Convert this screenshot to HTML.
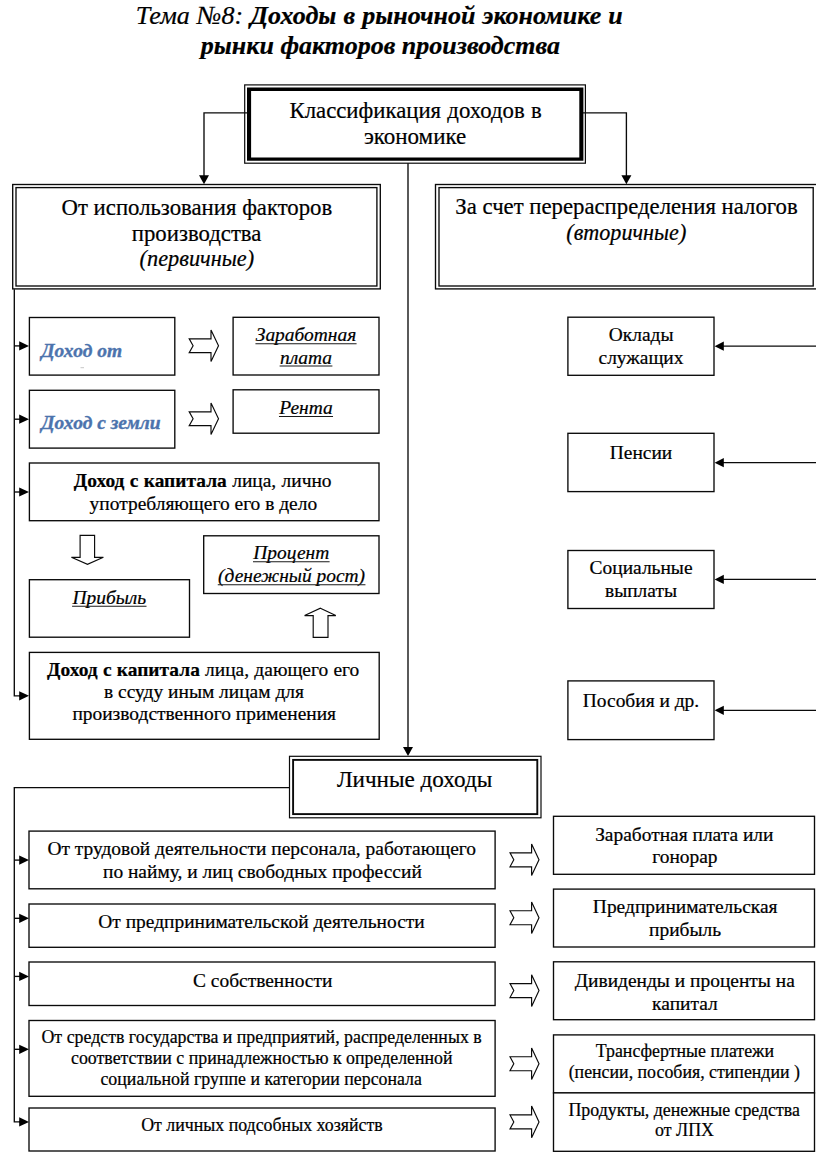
<!DOCTYPE html>
<html lang="ru"><head><meta charset="utf-8"><title>Тема №8</title>
<style>
html,body{margin:0;padding:0;background:#fff;}
body{width:816px;height:1153px;overflow:hidden;}
svg{display:block;}
text{font-family:"Liberation Serif",serif;fill:#000;stroke:#000;stroke-width:0.22px;}
.t{font-size:26px;font-style:italic;}
.h{font-size:22.75px;}
.n{font-size:19.45px;}
.s{font-size:17.85px;}
.i{font-style:italic;}
.b{font-weight:bold;}
.ul{fill:none;stroke:#1a1a1a;stroke-width:1.05;}
.bl{fill:#4c73ad;stroke:#4c73ad;stroke-width:0.35;font-weight:bold;font-style:italic;font-size:19.5px;}
.bx{fill:#fff;stroke:#0a0a0a;stroke-width:1.35;}
.ln{fill:none;stroke:#0a0a0a;stroke-width:1.35;}
.ar{fill:#fff;stroke:#0a0a0a;stroke-width:1.15;stroke-linejoin:miter;}
.hd{fill:#000;stroke:none;}
</style></head><body>
<svg width="816" height="1153" viewBox="0 0 816 1153">
<rect x="0" y="0" width="816" height="1153" fill="#fff"/>
<g transform="translate(0,0.3)">
<text x="379.3" y="23.6" text-anchor="middle" class="t" style="word-spacing:0.6px">Тема №8: <tspan class="b">Доходы в рыночной экономике и</tspan></text>
<text x="380.40" y="54.00" text-anchor="middle" class="t b">рынки факторов производства</text>
<path class="ln" d="M408,162 V749"/>
<path class="hd" d="M408.00,755.70 L403.00,746.70 L413.00,746.70 Z"/>
<rect class="bx" x="244.70" y="84.60" width="340.70" height="78.30" style="stroke-width:1.2"/>
<path fill="#000" fill-rule="evenodd" d="M247.0,87.3 H583.4 V160.4 H247.0 Z M251.1,90.6 H579.3 V157.1 H251.1 Z"/>
<text x="415.6" y="117.3" text-anchor="middle" class="h" style="word-spacing:0.6px">Классификация доходов в</text>
<text x="415.1" y="143.6" text-anchor="middle" style="font-size:23.0px">экономике</text>
<path class="ln" d="M247.5,112.6 H204 V177"/>
<path class="hd" d="M204.00,184.00 L199.00,175.00 L209.00,175.00 Z"/>
<path class="ln" d="M583,112.6 H626.4 V177"/>
<path class="hd" d="M626.40,184.00 L621.40,175.00 L631.40,175.00 Z"/>
<rect class="bx" x="12.70" y="184.20" width="367.60" height="104.40" />
<rect class="bx" x="16.00" y="187.30" width="360.90" height="98.40" />
<text x="196.90" y="214.80" text-anchor="middle" class="h">От использования факторов</text>
<text x="196.60" y="240.70" text-anchor="middle" class="h">производства</text>
<text x="196.9" y="265.8" text-anchor="middle" class="i" style="font-size:22.3px">(первичные)</text>
<rect class="bx" x="435.50" y="184.20" width="381.50" height="104.40" />
<rect class="bx" x="439.00" y="187.30" width="374.20" height="98.40" />
<text x="626.50" y="214.00" text-anchor="middle" class="h">За счет перераспределения налогов</text>
<text x="626.3" y="239.4" text-anchor="middle" class="i" style="font-size:22.15px">(вторичные)</text>
<path class="ln" d="M14.3,289 V695.5 H20"/>
<path class="ln" d="M14.30,345.60 H20.20"/>
<path class="hd" d="M29.00,345.60 L19.20,341.00 L19.20,350.20 Z"/>
<path class="ln" d="M14.30,418.90 H20.20"/>
<path class="hd" d="M29.00,418.90 L19.20,414.30 L19.20,423.50 Z"/>
<path class="ln" d="M14.30,491.70 H20.20"/>
<path class="hd" d="M29.00,491.70 L19.20,487.10 L19.20,496.30 Z"/>
<path class="ln" d="M19.00,695.50 H20.20"/>
<path class="hd" d="M29.00,695.50 L19.20,690.90 L19.20,700.10 Z"/>
<rect class="bx" x="29.40" y="317.20" width="145.40" height="57.60" />
<rect class="bx" x="29.40" y="390.00" width="145.40" height="57.80" />
<rect class="bx" x="233.10" y="317.00" width="145.90" height="57.70" />
<rect class="bx" x="233.10" y="389.50" width="145.90" height="43.40" />
<rect class="bx" x="29.40" y="462.70" width="349.60" height="57.70" />
<rect class="bx" x="29.40" y="579.40" width="160.10" height="57.50" />
<rect class="bx" x="203.70" y="535.50" width="175.30" height="57.70" />
<rect class="bx" x="29.40" y="652.10" width="349.80" height="86.90" />
<text x="41.20" y="356.40" text-anchor="start" class="bl">Доход от</text>
<text x="41.20" y="429.20" text-anchor="start" class="bl">Доход с земли</text>
<path d="M80.5,367.4 H84" stroke="#b8b8b8" stroke-width="0.8" fill="none"/>
<text x="306.00" y="341.20" text-anchor="middle" class="n i">Заработная</text>
<path class="ul" d="M255.44,343.50 H356.56"/>
<text x="306.00" y="363.40" text-anchor="middle" class="n i">плата</text>
<path class="ul" d="M279.61,365.70 H332.39"/>
<text x="306.00" y="413.80" text-anchor="middle" class="n i">Рента</text>
<path class="ul" d="M278.97,416.10 H333.03"/>
<text x="202.7" y="486.7" text-anchor="middle" class="n" style="word-spacing:0.5px"><tspan class="b">Доход с капитала</tspan> лица, лично</text>
<text x="203.40" y="509.80" text-anchor="middle" class="n">употребляющего его в дело</text>
<text x="109.30" y="603.60" text-anchor="middle" class="n i">Прибыль</text>
<path class="ul" d="M72.10,605.90 H146.50"/>
<text x="291.30" y="559.20" text-anchor="middle" class="n i">Процент</text>
<path class="ul" d="M252.98,561.50 H329.62"/>
<text x="291.60" y="582.10" text-anchor="middle" class="n i">(денежный рост)</text>
<path class="ul" d="M217.76,584.40 H365.44"/>
<text x="203.2" y="675.9" text-anchor="middle" class="n" style="word-spacing:0.4px"><tspan class="b">Доход с капитала</tspan> лица, дающего его</text>
<text x="204.00" y="697.80" text-anchor="middle" class="n">в ссуду иным лицам для</text>
<text x="204.20" y="720.10" text-anchor="middle" class="n">производственного применения</text>
<path class="ar" d="M189.20,338.55 H211.00 V329.75 L218.50,345.45 L211.00,361.15 V352.35 H189.20 L193.10,345.45 Z"/>
<path class="ar" d="M189.20,411.60 H211.00 V402.80 L218.50,418.50 L211.00,434.20 V425.40 H189.20 L193.10,418.50 Z"/>
<path class="ar" d="M80.1,535.1 H94.6 V557.0 H103.4 L87.5,564.1 L71.4,557.0 H80.1 Z"/>
<path class="ar" d="M320.4,607.9 L335.8,615.3 H328.0 V637.0 H313.2 V615.3 H304.6 Z"/>
<rect class="bx" x="567.90" y="316.90" width="146.10" height="58.10" />
<path class="ln" d="M817.00,345.90 H722.80"/>
<path class="hd" d="M714.60,345.90 L723.80,341.30 L723.80,350.50 Z"/>
<rect class="bx" x="567.90" y="433.00" width="146.10" height="58.30" />
<path class="ln" d="M817.00,462.40 H722.80"/>
<path class="hd" d="M714.60,462.40 L723.80,457.80 L723.80,467.00 Z"/>
<rect class="bx" x="567.90" y="550.20" width="146.10" height="58.00" />
<path class="ln" d="M817.00,579.10 H722.80"/>
<path class="hd" d="M714.60,579.10 L723.80,574.50 L723.80,583.70 Z"/>
<rect class="bx" x="567.90" y="680.60" width="146.10" height="58.70" />
<path class="ln" d="M817.00,710.00 H722.80"/>
<path class="hd" d="M714.60,710.00 L723.80,705.40 L723.80,714.60 Z"/>
<text x="641.20" y="340.70" text-anchor="middle" class="n">Оклады</text>
<text x="641.00" y="363.60" text-anchor="middle" class="n">служащих</text>
<text x="641.00" y="458.70" text-anchor="middle" class="n">Пенсии</text>
<text x="641.10" y="574.00" text-anchor="middle" class="n">Социальные</text>
<text x="641.00" y="597.00" text-anchor="middle" class="n">выплаты</text>
<text x="641.00" y="706.40" text-anchor="middle" class="n">Пособия и др.</text>
<rect class="bx" x="289.50" y="756.00" width="251.50" height="61.50" style="stroke-width:1.2"/>
<rect class="bx" x="293.10" y="759.60" width="244.20" height="54.20" style="stroke-width:1.9"/>
<text x="414.6" y="787.0" text-anchor="middle" style="font-size:23.15px">Личные доходы</text>
<path class="ln" d="M289.5,787.3 H14.3 V1121.6 H20"/>
<path class="ln" d="M14.30,859.80 H20.20"/>
<path class="hd" d="M29.00,859.80 L19.20,855.20 L19.20,864.40 Z"/>
<path class="ln" d="M14.30,918.00 H20.20"/>
<path class="hd" d="M29.00,918.00 L19.20,913.40 L19.20,922.60 Z"/>
<path class="ln" d="M14.30,976.10 H20.20"/>
<path class="hd" d="M29.00,976.10 L19.20,971.50 L19.20,980.70 Z"/>
<path class="ln" d="M14.30,1049.00 H20.20"/>
<path class="hd" d="M29.00,1049.00 L19.20,1044.40 L19.20,1053.60 Z"/>
<path class="ln" d="M19.00,1121.60 H20.20"/>
<path class="hd" d="M29.00,1121.60 L19.20,1117.00 L19.20,1126.20 Z"/>
<rect class="bx" x="29.00" y="830.80" width="466.10" height="57.70" />
<rect class="bx" x="29.00" y="903.70" width="466.10" height="43.30" />
<rect class="bx" x="29.00" y="961.70" width="466.10" height="43.50" />
<rect class="bx" x="29.00" y="1020.20" width="466.10" height="75.80" />
<rect class="bx" x="29.00" y="1107.70" width="466.10" height="43.00" />
<rect class="bx" x="553.50" y="816.00" width="261.00" height="58.00" />
<rect class="bx" x="553.50" y="888.80" width="261.00" height="57.90" />
<rect class="bx" x="553.50" y="961.50" width="261.00" height="57.90" />
<rect class="bx" x="553.50" y="1034.60" width="261.00" height="58.00" />
<rect class="bx" x="553.50" y="1092.60" width="261.00" height="58.40" />
<path class="ar" d="M510.00,852.50 H531.60 V843.70 L539.00,859.50 L531.60,875.30 V866.50 H510.00 L513.80,859.50 Z"/>
<path class="ar" d="M510.00,910.40 H531.60 V901.60 L539.00,917.40 L531.60,933.20 V924.40 H510.00 L513.80,917.40 Z"/>
<path class="ar" d="M510.00,983.30 H531.60 V974.50 L539.00,990.30 L531.60,1006.10 V997.30 H510.00 L513.80,990.30 Z"/>
<path class="ar" d="M510.00,1056.50 H531.60 V1047.70 L539.00,1063.50 L531.60,1079.30 V1070.50 H510.00 L513.80,1063.50 Z"/>
<path class="ar" d="M510.00,1114.60 H531.60 V1105.80 L539.00,1121.60 L531.60,1137.40 V1128.60 H510.00 L513.80,1121.60 Z"/>
<text x="261.70" y="854.80" text-anchor="middle" class="n">От трудовой деятельности персонала, работающего</text>
<text x="262.40" y="877.60" text-anchor="middle" class="n">по найму, и лиц свободных профессий</text>
<text x="261.50" y="928.20" text-anchor="middle" class="n">От предпринимательской деятельности</text>
<text x="262.70" y="986.70" text-anchor="middle" class="n">С собственности</text>
<text x="261.60" y="1043.00" text-anchor="middle" class="s">От средств государства и предприятий, распределенных в</text>
<text x="261.80" y="1063.90" text-anchor="middle" class="s">соответствии с принадлежностью к определенной</text>
<text x="261.20" y="1084.90" text-anchor="middle" class="s">социальной группе и категории персонала</text>
<text x="261.90" y="1131.00" text-anchor="middle" class="s">От личных подсобных хозяйств</text>
<text x="684.30" y="840.50" text-anchor="middle" class="n">Заработная плата или</text>
<text x="684.90" y="862.50" text-anchor="middle" class="n">гонорар</text>
<text x="685.20" y="913.00" text-anchor="middle" class="n">Предпринимательская</text>
<text x="685.10" y="935.30" text-anchor="middle" class="n">прибыль</text>
<text x="684.80" y="986.60" text-anchor="middle" class="n">Дивиденды и проценты на</text>
<text x="684.90" y="1009.30" text-anchor="middle" class="n">капитал</text>
<text x="684.90" y="1057.00" text-anchor="middle" class="s">Трансфертные платежи</text>
<text x="684.30" y="1077.50" text-anchor="middle" class="s">(пенсии, пособия, стипендии )</text>
<text x="684.20" y="1116.00" text-anchor="middle" class="s">Продукты, денежные средства</text>
<text x="684.50" y="1135.50" text-anchor="middle" class="s">от ЛПХ</text>
</g></svg></body></html>
